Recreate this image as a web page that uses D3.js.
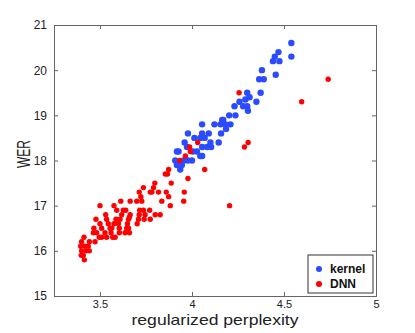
<!DOCTYPE html>
<html><head><meta charset="utf-8">
<script src="https://cdn.jsdelivr.net/npm/d3@7"></script>
<style>body{margin:0;background:#fff}svg{display:block}</style>
</head><body>
<script>
const xTicks = [3.5, 4, 4.5, 5];
const yTicks = [15, 16, 17, 18, 19, 20, 21];
const seriesNames = ["kernel", "DNN"];
const kernelX = [4.54,4.54,4.47,4.45,4.44,4.475,4.455,4.38,4.365,4.39,4.373,4.35,4.30,4.313,4.258,4.278,4.30,4.231,4.304,4.29,4.236,4.202,4.209,4.182,4.164,4.17,4.155,4.122,4.185,4.158,4.145,4.055,4.055,4.045,4.069,4.091,4.013,3.978,3.96,3.973,4.005,4.027,4.055,4.082,4.10,4.104,4.045,4.055,4.0,3.978,3.918,3.927,3.909,3.918,3.936,3.945,3.955];
const kernelY = [20.6,20.3,20.4,20.3,20.2,20.2,19.9,20.0,19.8,19.8,19.5,19.3,19.5,19.4,19.3,19.2,19.2,19.2,19.1,19.35,19.0,19.0,18.8,18.8,18.9,18.9,18.8,18.8,18.7,18.6,18.4,18.8,18.6,18.5,18.5,18.6,18.5,18.6,18.4,18.3,18.2,18.2,18.3,18.3,18.4,18.3,18.1,18.1,18.0,18.0,18.2,18.2,18.0,17.9,17.8,17.9,18.0];
const dnnX = [4.74,4.596,4.256,4.285,4.305,4.204,4.031,3.987,3.991,3.964,3.933,4.069,3.978,3.958,3.955,3.873,3.867,3.855,3.887,3.882,3.86,3.873,3.836,3.827,3.80,3.798,3.791,3.782,3.773,3.736,3.713,3.722,3.727,3.70,3.664,3.613,3.576,3.50,3.478,3.736,3.745,3.74,3.773,3.716,3.713,3.709,3.702,3.664,3.655,3.649,3.645,3.636,3.66,3.655,3.627,3.618,3.609,3.60,3.605,3.605,3.591,3.587,3.576,3.564,3.582,3.569,3.56,3.545,3.536,3.531,3.536,3.527,3.509,3.50,3.496,3.482,3.467,3.473,3.509,3.464,3.442,3.436,3.442,3.418,3.413,3.40,3.395,3.40,3.409,3.415,3.398,3.425,3.555,3.64,3.66,3.818,3.77];
const dnnY = [19.8,19.3,19.5,18.3,18.4,17.0,18.4,18.3,18.2,18.1,18.0,17.8,17.6,17.3,17.1,17.8,17.7,17.7,17.5,17.0,17.3,17.2,17.1,16.8,16.8,17.5,17.4,17.3,17.3,17.4,17.3,17.2,17.1,17.1,17.1,17.1,17.0,17.0,16.7,16.9,16.8,16.7,16.7,16.9,16.8,16.7,16.6,16.8,16.7,16.6,16.5,16.4,16.4,16.5,16.9,16.8,16.7,16.6,16.5,16.4,16.9,16.7,16.6,16.5,16.3,16.3,16.4,16.6,16.7,16.8,16.3,16.4,16.5,16.6,16.3,16.4,16.5,16.2,16.3,16.4,16.2,16.1,16.0,16.1,16.3,16.2,16.1,16.0,15.9,15.8,15.9,16.0,16.5,16.9,16.75,17.3,16.9];

const W = 415, H = 333;
const L = 54, R = 376, T = 25, B = 296;
const svg = d3.select("body").append("svg").attr("width", W).attr("height", H)
  .style("font-family", "'Liberation Sans', Arial, sans-serif");
const x = d3.scaleLinear().domain([3.25, 5]).range([L, R]);
const y = d3.scaleLinear().domain([15, 21]).range([B, T]);
const frame = "#666";

const gB = svg.append("g").attr("transform", `translate(0,${B})`)
  .call(d3.axisBottom(x).tickValues(xTicks).tickSize(-4).tickPadding(4).tickFormat(d3.format("")));
const gT = svg.append("g").attr("transform", `translate(0,${T})`)
  .call(d3.axisTop(x).tickValues(xTicks).tickSize(-4).tickFormat(""));
const gL = svg.append("g").attr("transform", `translate(${L},0)`)
  .call(d3.axisLeft(y).tickValues(yTicks).tickSize(-4).tickPadding(7).tickFormat(d3.format("")));
const gR = svg.append("g").attr("transform", `translate(${R},0)`)
  .call(d3.axisRight(y).tickValues(yTicks).tickSize(-4).tickFormat(""));
[gB, gT, gL, gR].forEach(g => {
  g.selectAll("path,line").attr("stroke", frame);
  g.selectAll("text").attr("fill", "#222").style("font-size", "12px");
});
gB.selectAll("text").style("font-size", "11px").attr("textLength", function() { return null; });

svg.append("g").selectAll("circle").data(d3.range(kernelX.length)).join("circle")
  .attr("cx", i => x(kernelX[i])).attr("cy", i => y(kernelY[i])).attr("r", 3.2).attr("fill", "#2a4bff");
svg.append("g").selectAll("circle").data(d3.range(dnnX.length)).join("circle")
  .attr("cx", i => x(dnnX[i])).attr("cy", i => y(dnnY[i])).attr("r", 2.7).attr("fill", "#ff0000");

svg.append("text").attr("x", 215).attr("y", 324.5).attr("text-anchor", "middle")
  .attr("textLength", 167).attr("lengthAdjust", "spacingAndGlyphs")
  .style("font-size", "15px").attr("fill", "#222").text("regularized perplexity");
svg.append("text").attr("transform", "translate(30,154) rotate(-90)").attr("text-anchor", "middle")
  .attr("textLength", 28).attr("lengthAdjust", "spacingAndGlyphs")
  .style("font-size", "17.5px").attr("fill", "#222").text("WER");

const lg = svg.append("g");
lg.append("rect").attr("x", 308).attr("y", 255).attr("width", 65).attr("height", 38)
  .attr("fill", "#fff").attr("stroke", "#333");
const colors = ["#2a4bff", "#ff0000"];
seriesNames.forEach((n, i) => {
  lg.append("circle").attr("cx", 319).attr("cy", 269 + i * 15).attr("r", 3).attr("fill", colors[i]);
  lg.append("text").attr("x", 330).attr("y", 273 + i * 15).style("font-size", "12px")
    .style("font-weight", "bold").attr("fill", "#111").text(n);
});
</script>
</body></html>
